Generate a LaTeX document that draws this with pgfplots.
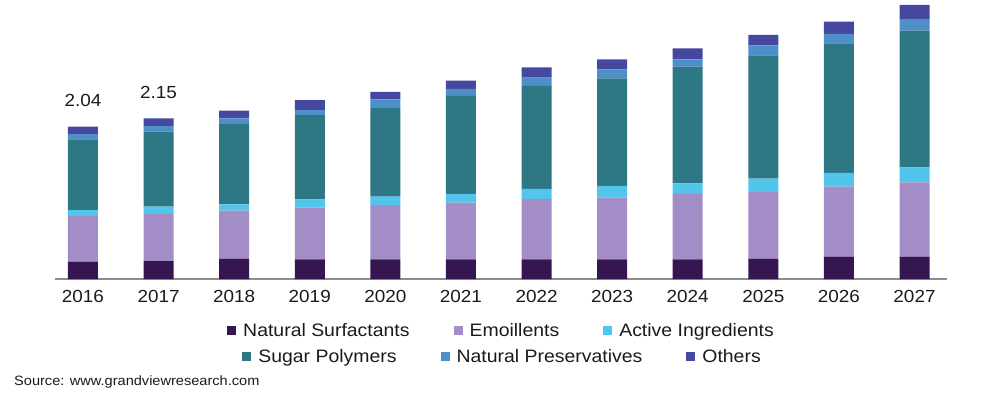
\documentclass[border=0pt]{standalone}
\usepackage{pgfplots}
\usepackage{pgfplotstable}
\pgfplotsset{compat=1.18}
\usepackage{fontspec}
\setmainfont{Liberation Sans}[FakeStretch=1.08]
\definecolor{cSurf}{HTML}{361650}
\definecolor{cEmoll}{HTML}{A38DC7}
\definecolor{cActive}{HTML}{52C5EC}
\definecolor{cSugar}{HTML}{2D7884}
\definecolor{cPresv}{HTML}{4F8FC9}
\definecolor{cOthers}{HTML}{45489E}
\definecolor{cText}{HTML}{1A1A1A}
\pgfplotstableread{
x surf emoll active sugar presv others
0  0.232 0.612 0.080 0.947 0.071 0.098
1  0.241 0.630 0.098 1.004 0.076 0.103
2  0.268 0.647 0.086 1.075 0.076 0.102
3  0.264 0.691 0.112 1.129 0.067 0.134
4  0.264 0.727 0.111 1.192 0.112 0.102
5  0.264 0.758 0.117 1.313 0.094 0.111
6  0.264 0.808 0.134 1.380 0.111 0.139
7  0.264 0.830 0.155 1.439 0.121 0.134
8  0.264 0.875 0.143 1.562 0.099 0.147
9  0.268 0.897 0.179 1.651 0.134 0.143
10 0.299 0.938 0.184 1.736 0.126 0.165
11 0.299 0.995 0.201 1.831 0.157 0.188
}\datatable
\pgfplotsset{sqleg/.style={legend image code/.code={\fill[##1] (0pt,-4.5pt) rectangle (9pt,4.5pt);}}}
\pgfplotsset{legstyle/.style={draw=none, fill=none, legend columns=-1, anchor=center,
  font=\fontsize{18pt}{21pt}\selectfont, text=cText,
  /tikz/every odd column/.append style={column sep=5pt},
  /tikz/every even column/.append style={column sep=42pt}}}
\begin{document}
\begin{tikzpicture}
\useasboundingbox (0,0) rectangle (1000pt,394pt);
\begin{axis}[
  at={(55pt,115pt)}, anchor=south west,
  scale only axis, width=892pt, height=276.2pt,
  xmin=-0.37, xmax=11.43, ymin=0, ymax=3.7,
  ybar stacked, bar width=30pt,
  axis y line=none, axis x line*=bottom,
  axis line style={draw=black!45, line width=1.5pt, -},
  xtick=data, xticklabels={2016,2017,2018,2019,2020,2021,2022,2023,2024,2025,2026,2027},
  major tick length=0pt,
  xticklabel style={font=\fontsize{17.5pt}{20pt}\selectfont, text=cText, yshift=-8pt},
  clip=false,
  legend style={legstyle, at={(0.5006,-0.187)}},
]
\addplot[fill=cSurf, draw=none, sqleg] table[x=x, y=surf] {\datatable};
\addplot[fill=cEmoll, draw=none, sqleg] table[x=x, y=emoll] {\datatable};
\addplot[fill=cActive, draw=none, sqleg] table[x=x, y=active] {\datatable};
\addplot[fill=cSugar, draw=none, sqleg] table[x=x, y=sugar] {\datatable};
\addplot[fill=cPresv, draw=none, sqleg] table[x=x, y=presv] {\datatable};
\addplot[fill=cOthers, draw=none, sqleg] table[x=x, y=others] {\datatable};
\legend{Natural Surfactants, Emoillents, Active Ingredients}
\node[font=\fontsize{17.5pt}{20pt}\selectfont, text=cText, anchor=center, yshift=26pt] at (axis cs:0,2.04) {2.04};
\node[font=\fontsize{17.5pt}{20pt}\selectfont, text=cText, anchor=center, yshift=26pt] at (axis cs:1,2.15) {2.15};
\end{axis}
\begin{axis}[
  at={(55pt,115pt)}, anchor=south west,
  scale only axis, width=892pt, height=276.2pt,
  xmin=0, xmax=1, ymin=0, ymax=1, hide axis,
  legend style={legstyle, at={(0.5017,-0.2813)}},
]
\addlegendimage{sqleg, fill=cSugar, draw=none}
\addlegendimage{sqleg, fill=cPresv, draw=none}
\addlegendimage{sqleg, fill=cOthers, draw=none}
\legend{Sugar Polymers, Natural Preservatives, Others}
\end{axis}
\node[anchor=west, inner sep=0pt, font=\fontsize{13.5pt}{15pt}\selectfont, text=cText] at (14pt,12pt) {Source: www.grandviewresearch.com};
\end{tikzpicture}
\end{document}
